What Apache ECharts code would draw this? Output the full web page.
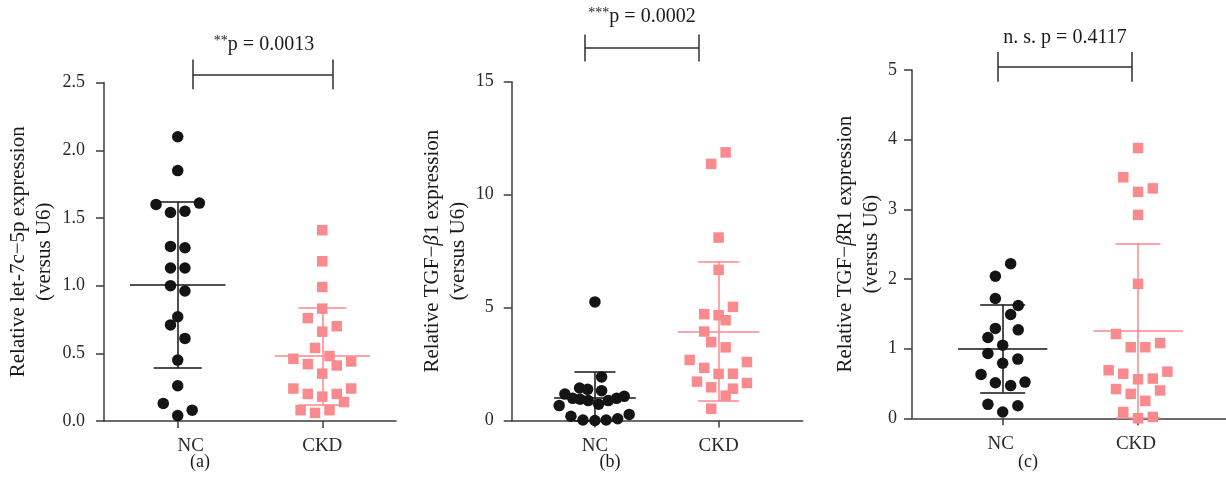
<!DOCTYPE html>
<html>
<head>
<meta charset="utf-8">
<script src="https://cdn.jsdelivr.net/npm/echarts@6/dist/echarts.min.js"></script>
<style>
html, body { margin: 0; padding: 0; background: #fff; }
#chart { width: 1226px; height: 499px; }
</style>
</head>
<body>
<div id="chart"></div>
<script>
var groups = ['NC', 'CKD'];
var panelTags = ['(a)', '(b)', '(c)'];
var pTexts = ['**p = 0.0013', '***p = 0.0002', 'n. s. p = 0.4117'];

// (a) let-7c-5p  -- [x (group + jitter), value]
var aNC = [[1, 2.10], [1, 1.85], [0.85, 1.60], [1.15, 1.61], [0.95, 1.54], [1.05, 1.55], [0.95, 1.29], [1.05, 1.28],
  [0.95, 1.13], [1.05, 1.13], [0.95, 1.00], [1.05, 0.96], [1, 0.77], [0.95, 0.71], [1.05, 0.61], [1, 0.45],
  [1, 0.26], [0.9, 0.13], [1.1, 0.08], [1, 0.04]];
var aCKD = [[2, 1.41], [2, 1.18], [2, 0.99], [2, 0.83], [1.9, 0.76], [2.1, 0.70], [2, 0.66], [1.95, 0.54],
  [1.8, 0.46], [2.05, 0.48], [1.9, 0.42], [2.1, 0.41], [2.2, 0.44], [2, 0.35], [1.8, 0.24], [1.9, 0.20],
  [2.1, 0.20], [2.2, 0.24], [2, 0.18], [2.15, 0.14], [1.85, 0.08], [1.95, 0.06], [2.05, 0.08]];
var aMean = [1.005, 0.48];
var aSdHi = [1.62, 0.84];
var aSdLo = [0.39, 0.12];

// (b) TGF-beta1
var bNC = [[1, 5.25], [1.054, 1.93], [0.876, 1.44], [0.941, 1.38], [1.054, 1.32], [0.757, 1.17], [0.82, 0.98],
  [0.88, 0.94], [0.946, 0.88], [1.03, 0.72], [1.108, 0.88], [1.175, 0.98], [1.237, 1.07], [0.711, 0.66],
  [0.806, 0.19], [0.903, 0.02], [1, 0.0], [1.091, 0.02], [1.184, 0.08], [1.277, 0.27]];
var bCKD = [[2.057, 11.87], [1.94, 11.36], [2, 8.10], [2, 6.67], [2.116, 5.03], [1.884, 4.71], [2, 4.66],
  [2.057, 4.44], [1.884, 3.94], [1.94, 3.47], [2.057, 3.24], [1.766, 2.68], [2.229, 2.59], [1.884, 2.33],
  [2, 2.06], [2.116, 2.07], [1.825, 1.72], [1.94, 1.47], [2.116, 1.41], [2.229, 1.66], [2.057, 1.10], [1.94, 0.52]];
var bMean = [1.01, 3.94];
var bSdHi = [2.14, 7.04];
var bSdLo = [-0.12, 0.86];

// (c) TGF-beta R1
var cNC = [[1.059, 2.22], [0.946, 2.04], [0.946, 1.72], [1.115, 1.62], [1.059, 1.49], [0.946, 1.29], [1.115, 1.27],
  [0.891, 1.16], [1, 1.05], [0.891, 0.93], [1, 0.79], [1.112, 0.85], [0.84, 0.63], [0.946, 0.51],
  [1.059, 0.47], [1.165, 0.52], [0.891, 0.20], [1.112, 0.18], [1, 0.09]];
var cCKD = [[2, 3.88], [1.891, 3.46], [2, 3.25], [2.109, 3.30], [2, 2.92], [2, 1.93], [1.837, 1.21], [1.946, 1.02],
  [2.054, 1.02], [2.163, 1.08], [1.783, 0.69], [1.891, 0.64], [2, 0.56], [2.109, 0.57], [2.217, 0.67],
  [1.837, 0.42], [1.946, 0.35], [2.163, 0.40], [2.054, 0.25], [1.891, 0.09], [2, 0.00], [2.109, 0.02]];
var cMean = [1.00, 1.26];
var cSdHi = [1.63, 2.51];
var cSdLo = [0.37, 0.01];

// significance brackets: [x left, x right, y bar, y top, y bottom]
var aBracket = [1.104, 2.072, 2.56, 2.67, 2.45];
var bBracket = [0.919, 1.841, 16.51, 17.09, 15.89];
var cBracket = [0.965, 1.956, 5.04, 5.26, 4.83];

// where the group names sit on each x axis
var aLabelAt = [1.09, 2];
var bLabelAt = [1, 2];
var cLabelAt = [0.985, 1.985];

var FONT = '"Liberation Serif", "DejaVu Serif", serif';
var AXIS = '#3c3c3c';
var INK = '#141414';
var PINK = '#f98b8f';
var PINK_LINE = '#f8898e';

var panels = [
  { nc: aNC, ckd: aCKD, mean: aMean, hi: aSdHi, lo: aSdLo, br: aBracket, labelAt: aLabelAt,
    grid: { left: 104, top: 82.6, width: 292, height: 338.4 }, xMin: 0.49, xMax: 2.51,
    yMax: 2.5, yInt: 0.5, dec: 1, nameGap: 47, labelMargin: 19,
    name: '{t|Relative let-7c−5p expression}\n{t|(versus U6)}' },
  { nc: bNC, ckd: bCKD, mean: bMean, hi: bSdHi, lo: bSdLo, br: bBracket, labelAt: bLabelAt,
    grid: { left: 511.7, top: 81.7, width: 291, height: 338.8 }, xMin: 0.327, xMax: 2.68,
    yMax: 15, yInt: 5, dec: 0, nameGap: 36, labelMargin: 18,
    name: '{t|Relative TGF−}{i|β}{t|1 expression}\n{t|(versus U6)}' },
  { nc: cNC, ckd: cCKD, mean: cMean, hi: cSdHi, lo: cSdLo, br: cBracket, labelAt: cLabelAt,
    grid: { left: 912, top: 70, width: 314, height: 348.3 }, xMin: 0.33, xMax: 2.65,
    yMax: 5, yInt: 1, dec: 0, nameGap: 22, labelMargin: 15,
    name: '{t|Relative TGF−}{i|β}{t|R1 expression}\n{t|(versus U6)}' }
];

var grids = [], xAxes = [], yAxes = [], series = [];

panels.forEach(function (p, i) {
  grids.push(p.grid);
  xAxes.push({
    type: 'value', gridIndex: i, min: p.xMin, max: p.xMax,
    axisLine: { lineStyle: { color: AXIS, width: 1.5 } },
    axisTick: { show: true, length: 7, customValues: [1, 2], lineStyle: { color: AXIS, width: 1.5 } },
    axisLabel: {
      customValues: p.labelAt, margin: 16, color: '#2a2a2a', fontFamily: FONT, fontSize: 19,
      formatter: function (v) { return groups[Math.round(v) - 1]; }
    },
    splitLine: { show: false }
  });
  yAxes.push({
    type: 'value', gridIndex: i, min: 0, max: p.yMax, interval: p.yInt,
    name: p.name, nameLocation: 'middle', nameRotate: 90, nameGap: p.nameGap,
    nameTextStyle: {
      lineHeight: 26,
      rich: {
        t: { fontFamily: FONT, fontSize: 21, color: '#1a1a1a', lineHeight: 26 },
        i: { fontFamily: FONT, fontSize: 21, fontStyle: 'italic', color: '#1a1a1a', lineHeight: 26 }
      }
    },
    axisLine: { show: true, lineStyle: { color: AXIS, width: 1.5 } },
    axisTick: { show: true, length: 8, lineStyle: { color: AXIS, width: 1.5 } },
    axisLabel: {
      margin: p.labelMargin, color: '#2a2a2a', fontFamily: FONT, fontSize: 18,
      formatter: function (v) { return v.toFixed(p.dec); }
    },
    splitLine: { show: false }
  });

  // mean and SD bars
  var segs = [];
  [0, 1].forEach(function (g) {
    var x = g + 1, c = g === 0 ? INK : PINK_LINE;
    var lo = Math.max(0, p.lo[g]), hi = p.hi[g], m = p.mean[g];
    var ls = { color: c, width: 1.5, opacity: 1 };
    segs.push({ coords: [[x - 0.33, m], [x + 0.33, m]], lineStyle: ls });
    segs.push({ coords: [[x, lo], [x, hi]], lineStyle: ls });
    segs.push({ coords: [[x - 0.166, hi], [x + 0.166, hi]], lineStyle: ls });
    segs.push({ coords: [[x - 0.166, lo], [x + 0.166, lo]], lineStyle: ls });
  });
  series.push({
    type: 'lines', coordinateSystem: 'cartesian2d', xAxisIndex: i, yAxisIndex: i,
    data: segs, silent: true, z: 2, clip: false, lineStyle: { opacity: 1, width: 1.5 }
  });

  series.push({
    type: 'scatter', xAxisIndex: i, yAxisIndex: i, data: p.nc, symbol: 'circle', symbolSize: 11.5,
    itemStyle: { color: INK, opacity: 1 }, z: 3, clip: false
  });
  series.push({
    type: 'scatter', xAxisIndex: i, yAxisIndex: i, data: p.ckd, symbol: 'rect', symbolSize: 10.5,
    itemStyle: { color: PINK, opacity: 1 }, z: 3, clip: false
  });

  // significance bracket
  var b = p.br;
  var bs = { color: '#2e2e2e', width: 1.5, opacity: 1 };
  series.push({
    type: 'lines', coordinateSystem: 'cartesian2d', xAxisIndex: i, yAxisIndex: i, silent: true, clip: false,
    lineStyle: bs,
    data: [
      { coords: [[b[0], b[2]], [b[1], b[2]]] },
      { coords: [[b[0], b[3]], [b[0], b[4]]] },
      { coords: [[b[1], b[3]], [b[1], b[4]]] }
    ]
  });
});

var chart = echarts.init(document.getElementById('chart'), null, { renderer: 'canvas' });
chart.setOption({
  backgroundColor: '#fff',
  animation: false,
  grid: grids,
  xAxis: xAxes,
  yAxis: yAxes,
  series: series
});

// p-value texts and panel tags
var pCenters = [[264, 45], [642, 17], [1065, 38]];
var tagX = [200, 610, 1028];
var g = [];
pTexts.forEach(function (t, i) {
  var m = t.match(/^(\**)(.*)$/);
  var txt = (m[1] ? '{s|' + m[1] + '}' : '') + '{n|' + m[2] + '}';
  g.push({
    type: 'text', x: pCenters[i][0], y: pCenters[i][1],
    style: {
      text: txt, textAlign: 'center', textVerticalAlign: 'middle',
      rich: {
        s: { fontFamily: FONT, fontSize: 14, fill: '#1a1a1a', verticalAlign: 'top', lineHeight: 22 },
        n: { fontFamily: FONT, fontSize: 20, fill: '#1a1a1a', lineHeight: 22 }
      }
    }
  });
  g.push({
    type: 'text', x: tagX[i], y: 462,
    style: { text: panelTags[i], textAlign: 'center', textVerticalAlign: 'middle', font: '18px ' + FONT, fill: '#1a1a1a' }
  });
});
chart.setOption({ graphic: g });
</script>
</body>
</html>
